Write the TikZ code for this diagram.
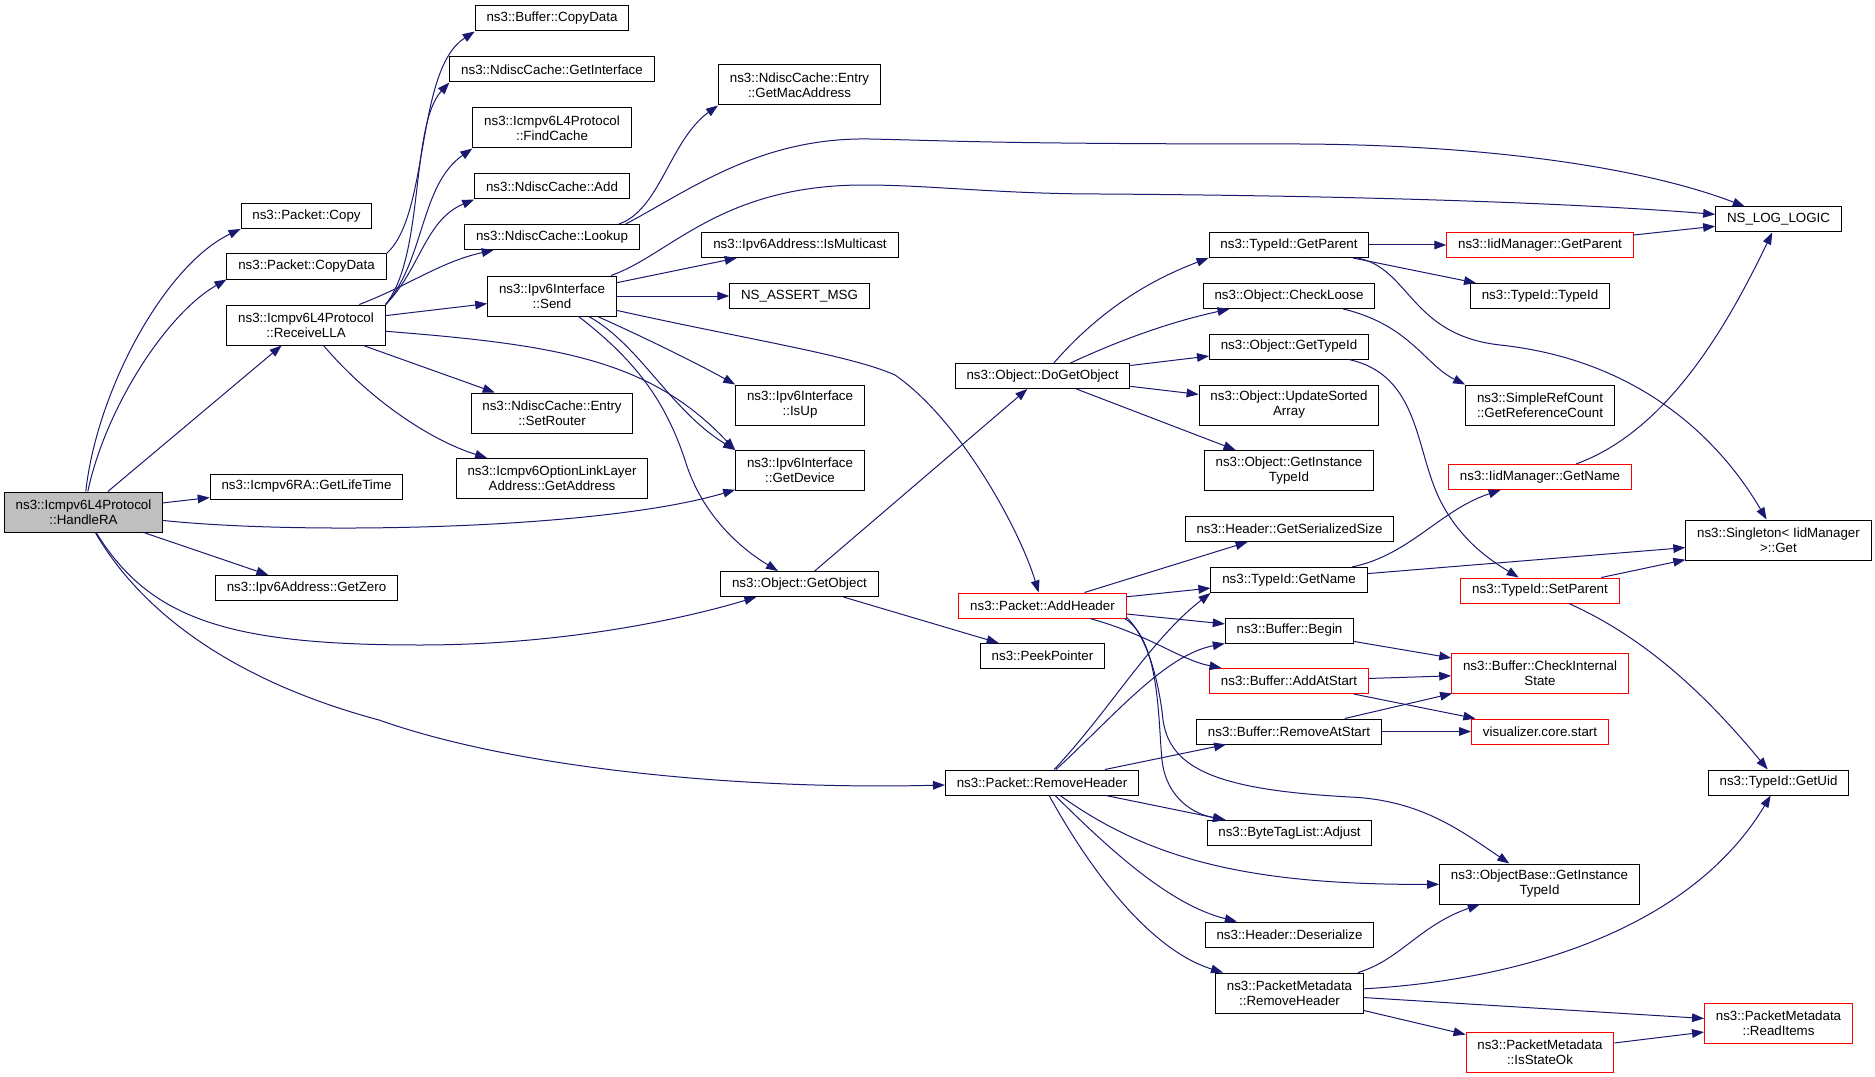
\documentclass[tikz,border=0pt]{standalone}
\usepackage{fontspec}
\setmainfont{Liberation Sans}
\usetikzlibrary{arrows.meta}
\definecolor{edgeblue}{HTML}{191970}
\definecolor{hagray}{HTML}{BFBFBF}
\begin{document}
\begin{tikzpicture}[x=0.75pt,y=-0.75pt,
    fn/.style={draw, line width=.75pt, fill=white, inner xsep=8.5pt, inner ysep=0pt,
      minimum height=18.75pt, align=center, font=\fontsize{10}{11.25}\selectfont},
    fn2/.style={fn, minimum height=30pt},
    call/.style={draw=edgeblue, line width=.75pt, -{Triangle[length=9pt,width=6.5pt]}}]
  \useasboundingbox (0,0) rectangle (1875,1077);
  % first column
  \node (ha) at (83.5,512) [fn2, fill=hagray] {ns3::Icmpv6L4Protocol\\::HandleRA};
  % second column
  \node (pcopy) at (306.5,216) [fn] {ns3::Packet::Copy};
  \node (pcd) at (306.5,266.5) [fn] {ns3::Packet::CopyData};
  \node (rlla) at (306,325) [fn2] {ns3::Icmpv6L4Protocol\\::ReceiveLLA};
  \node (lt) at (306.5,486.5) [fn] {ns3::Icmpv6RA::GetLifeTime};
  \node (zero) at (306.5,588) [fn] {ns3::Ipv6Address::GetZero};
  % third column
  \node (bcd) at (552,18.5) [fn] {ns3::Buffer::CopyData};
  \node (gif) at (552,69.5) [fn] {ns3::NdiscCache::GetInterface};
  \node (fc) at (552,128) [fn2] {ns3::Icmpv6L4Protocol\\::FindCache};
  \node (add) at (552,186.5) [fn] {ns3::NdiscCache::Add};
  \node (lookup) at (552,237) [fn] {ns3::NdiscCache::Lookup};
  \node (send) at (552,296) [fn2] {ns3::Ipv6Interface\\::Send};
  \node (sr) at (552,413) [fn2] {ns3::NdiscCache::Entry\\::SetRouter};
  \node (ga) at (552,478.5) [fn2] {ns3::Icmpv6OptionLinkLayer\\Address::GetAddress};
  % fourth column
  \node (mac) at (799.5,85) [fn2] {ns3::NdiscCache::Entry\\::GetMacAddress};
  \node (mc) at (800,245) [fn] {ns3::Ipv6Address::IsMulticast};
  \node (am) at (799.5,296) [fn] {NS\_ASSERT\_MSG};
  \node (isup) at (800,405) [fn2] {ns3::Ipv6Interface\\::IsUp};
  \node (dev) at (800,470.5) [fn2] {ns3::Ipv6Interface\\::GetDevice};
  \node (gobj) at (799.5,584) [fn] {ns3::Object::GetObject};
  % fifth column
  \node (dgo) at (1042.5,376) [fn] {ns3::Object::DoGetObject};
  \node (ah) at (1042.5,605.5) [fn, draw=red] {ns3::Packet::AddHeader};
  \node (pp) at (1042.5,656) [fn] {ns3::PeekPointer};
  \node (rh) at (1042,782.5) [fn] {ns3::Packet::RemoveHeader};
  % sixth column
  \node (tgp) at (1289,245) [fn] {ns3::TypeId::GetParent};
  \node (cl) at (1289,296) [fn] {ns3::Object::CheckLoose};
  \node (gtid) at (1289,346.5) [fn] {ns3::Object::GetTypeId};
  \node (us) at (1289,405) [fn2] {ns3::Object::UpdateSorted\\Array};
  \node (oit) at (1289,470.5) [fn2] {ns3::Object::GetInstance\\TypeId};
  \node (gss) at (1289.5,529) [fn] {ns3::Header::GetSerializedSize};
  \node (tgn) at (1289,580) [fn] {ns3::TypeId::GetName};
  \node (bb) at (1289.5,630.5) [fn] {ns3::Buffer::Begin};
  \node (aas) at (1289,681) [fn, draw=red] {ns3::Buffer::AddAtStart};
  \node (ras) at (1289,731.5) [fn] {ns3::Buffer::RemoveAtStart};
  \node (bta) at (1289.5,833) [fn] {ns3::ByteTagList::Adjust};
  \node (hd) at (1289.5,934.5) [fn] {ns3::Header::Deserialize};
  \node (pmrh) at (1289.5,993) [fn2] {ns3::PacketMetadata\\::RemoveHeader};
  % seventh column
  \node (igp) at (1540,245) [fn, draw=red] {ns3::IidManager::GetParent};
  \node (tt) at (1540,296) [fn] {ns3::TypeId::TypeId};
  \node (src) at (1540,405) [fn2] {ns3::SimpleRefCount\\::GetReferenceCount};
  \node (ign) at (1540,477) [fn, draw=red] {ns3::IidManager::GetName};
  \node (tsp) at (1540,590.5) [fn, draw=red] {ns3::TypeId::SetParent};
  \node (cis) at (1540,673) [fn2, draw=red] {ns3::Buffer::CheckInternal\\State};
  \node (vis) at (1540,731.5) [fn, draw=red] {visualizer.core.start};
  \node (obit) at (1539.5,884) [fn2] {ns3::ObjectBase::GetInstance\\TypeId};
  \node (iso) at (1540,1052) [fn2, draw=red] {ns3::PacketMetadata\\::IsStateOk};
  % last column
  \node (log) at (1778.5,219.5) [fn] {NS\_LOG\_LOGIC};
  \node (sg) at (1778.5,540) [fn2] {ns3::Singleton< IidManager\\>::Get};
  \node (uid) at (1778.5,782.5) [fn] {ns3::TypeId::GetUid};
  \node (ri) at (1778.5,1023) [fn2, draw=red] {ns3::PacketMetadata\\::ReadItems};

  \foreach \a/\b in {ha/lt, ha/zero, ha/rlla, rlla/send, rlla/sr, send/mc, send/am,
      gobj/dgo, gobj/pp, dgo/gtid, dgo/us, dgo/oit, ah/gss, ah/tgn, ah/bb,
      tgp/igp, tgp/tt, igp/log, tgn/sg, tsp/sg, bb/cis, aas/cis, aas/vis,
      ras/cis, ras/vis, rh/ras, rh/bta, pmrh/ri, pmrh/iso, iso/ri}
    \draw[call] (\a) -- (\b);

  \draw[call] (ha) .. controls (97,390) and (165,265) .. (pcopy.south west);
  \draw[call] (ha) .. controls (105,410) and (165,315) .. (pcd.south west);
  \draw[call] (ha) .. controls (300,535) and (600,530) .. (dev);
  \draw[call] (ha) .. controls (150,620) and (230,645) .. (420,645)
    .. controls (560,645) and (680,620) .. (gobj);
  \draw[call] (ha) .. controls (140,610) and (230,680) .. (379,720)
    .. controls (520,770) and (750,790) .. (rh);
  \draw[call] (pcd.north east) .. controls (430,215) and (415,70) .. (bcd.south west);
  \draw[call] (rlla.north east) .. controls (425,255) and (410,125) .. (gif.south west);
  \draw[call] (rlla.north east) .. controls (425,260) and (420,185) .. (fc.south west);
  \draw[call] (rlla.north east) .. controls (420,270) and (425,220) .. (add.south west);
  \draw[call] (rlla) .. controls (410,285) and (440,262) .. (lookup);
  \draw[call] (rlla) .. controls (370,400) and (430,440) .. (ga);
  \draw[call] (rlla) .. controls (560,345) and (650,360) .. (dev.north west);
  \draw[call] (lookup.11) .. controls (660,210) and (670,140) .. (mac.south west);
  \draw[call] (lookup.10) .. controls (690,190) and (760,137) .. (870,139)
    .. controls (960,141) and (1000,144) .. (1300,144)
    .. controls (1500,145) and (1650,170) .. (log);
  \draw[call] (send) .. controls (670,255) and (720,185) .. (864,185)
    .. controls (930,185) and (1000,194) .. (1100,194)
    .. controls (1400,196) and (1600,205) .. (log);
  \draw[call] (send) .. controls (650,340) and (700,365) .. (isup.north west);
  \draw[call] (send) .. controls (640,345) and (670,410) .. (dev.north west);
  \draw[call] (send) .. controls (635,360) and (665,400) .. (685,460)
    .. controls (700,510) and (735,545) .. (gobj);
  \draw[call] (send) .. controls (750,340) and (850,355) .. (895,375)
    .. controls (960,420) and (1020,530) .. (ah);
  \draw[call] (dgo) .. controls (1100,310) and (1150,280) .. (tgp.south west);
  \draw[call] (dgo) .. controls (1120,340) and (1170,322) .. (cl);
  \draw[call] (tgp) .. controls (1410,268) and (1410,335) .. (1500,345)
    .. controls (1640,360) and (1720,440) .. (sg);
  \draw[call] (cl) .. controls (1410,325) and (1425,365) .. (src.north west);
  \draw[call] (gtid) .. controls (1420,375) and (1415,450) .. (1440,500)
    .. controls (1460,540) and (1490,560) .. (tsp);
  \draw[call] (ign) .. controls (1670,430) and (1730,320) .. (log);
  \draw[call] (tgn) .. controls (1410,555) and (1440,510) .. (ign);
  \draw[call] (tsp) .. controls (1650,640) and (1710,700) .. (uid);
  \draw[call] (ah) .. controls (1150,635) and (1180,660) .. (aas);
  \draw[call] (ah.-9) .. controls (1160,640) and (1158,720) .. (1162,760)
    .. controls (1165,790) and (1185,812) .. (bta);
  \draw[call] (ah.-8) .. controls (1150,640) and (1160,690) .. (1163,720)
    .. controls (1170,770) and (1220,790) .. (1350,797)
    .. controls (1420,800) and (1460,830) .. (obit);
  \draw[call] (rh) .. controls (1110,710) and (1150,640) .. (tgn.south west);
  \draw[call] (rh) .. controls (1115,715) and (1165,655) .. (bb.south west);
  \draw[call] (rh) .. controls (1150,860) and (1250,885) .. (obit);
  \draw[call] (rh) .. controls (1110,850) and (1170,905) .. (hd);
  \draw[call] (rh) .. controls (1090,870) and (1150,950) .. (pmrh);
  \draw[call] (pmrh) .. controls (1400,960) and (1420,925) .. (obit);
  \draw[call] (pmrh) .. controls (1520,980) and (1690,930) .. (uid);
\end{tikzpicture}
\end{document}
